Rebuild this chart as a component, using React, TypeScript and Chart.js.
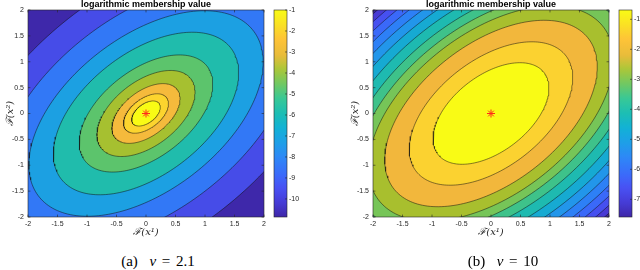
import React, { useEffect, useRef } from "react";
import { Chart, registerables } from "chart.js";
Chart.register(...registerables);

// ---------------- data ----------------
const axisTicks = [-2, -1.5, -1, -0.5, 0, 0.5, 1, 1.5, 2];

// panel (a): nu = 2.1 — contour levels, innermost first
const leftLevels = [-2, -3, -4, -5, -6, -7, -8, -9, -10];
// where each contour line crosses the positive x-axis (y = 0)
const leftCrossings = [0.21, 0.33, 0.5, 0.72, 0.98, 1.36, 1.72, 2.18, 2.74];
const leftCorrelation = 0.5;
const leftColorbarTicks = [-1, -2, -3, -4, -5, -6, -7, -8, -9, -10];
const leftValueRange = [-10.86, -1];

// panel (b): nu = 10
const rightLevels = [-1, -1.5, -2, -2.5, -3, -3.5, -4, -4.5, -5, -5.5, -6, -6.5, -7];
const rightCrossings = [0.85, 1.2, 1.56, 1.8, 1.98, 2.17, 2.38, 2.58, 2.77, 2.95, 3.12, 3.27, 3.4];
const rightCorrelation = 0.5;
const rightColorbarTicks = [-1, -2, -3, -4, -5, -6, -7];
const rightValueRange = [-7.59, -0.69];

const centerPoint = [{ x: 0, y: 0 }];

// ---------------- styling ----------------
// fill colour of each band, innermost band first, outermost (corner) band last
const leftBandColors = [
  "rgb(249,251,21)",
  "rgb(252,212,46)",
  "rgb(245,186,60)",
  "rgb(166,192,48)",
  "rgb(92,196,108)",
  "rgb(32,188,172)",
  "rgb(28,160,226)",
  "rgb(50,120,246)",
  "rgb(70,76,232)",
  "rgb(62,40,170)",
];
const rightBandColors = [
  "rgb(249,251,21)",
  "rgb(251,210,48)",
  "rgb(242,183,60)",
  "rgb(168,191,46)",
  "rgb(118,197,88)",
  "rgb(62,194,138)",
  "rgb(30,186,176)",
  "rgb(22,170,210)",
  "rgb(34,150,234)",
  "rgb(45,128,246)",
  "rgb(58,105,249)",
  "rgb(70,80,240)",
  "rgb(72,58,212)",
  "rgb(62,38,168)",
];

const COLORMAP: number[][] = [
  [0.0, 62, 38, 168],
  [0.07, 70, 60, 215],
  [0.143, 72, 82, 244],
  [0.2, 60, 105, 250],
  [0.286, 46, 135, 247],
  [0.357, 30, 158, 232],
  [0.429, 18, 177, 214],
  [0.5, 28, 190, 180],
  [0.571, 55, 200, 151],
  [0.64, 110, 200, 100],
  [0.714, 171, 199, 57],
  [0.78, 232, 188, 58],
  [0.857, 254, 195, 56],
  [0.93, 250, 225, 36],
  [1.0, 249, 251, 21],
];

function cmap(t: number): string {
  const tt = Math.max(0, Math.min(1, t));
  for (let i = 0; i < COLORMAP.length - 1; i++) {
    const a = COLORMAP[i];
    const b = COLORMAP[i + 1];
    if (tt <= b[0]) {
      const f = (tt - a[0]) / (b[0] - a[0]);
      const r = Math.round(a[1] + (b[1] - a[1]) * f);
      const g = Math.round(a[2] + (b[2] - a[2]) * f);
      const bl = Math.round(a[3] + (b[3] - a[3]) * f);
      return `rgb(${r},${g},${bl})`;
    }
  }
  return "rgb(249,251,21)";
}

function ellipsePoints(x0: number, rho: number, steps = 200) {
  const A = x0 / Math.sqrt(1 - rho);
  const B = x0 / Math.sqrt(1 + rho);
  const pts: { x: number; y: number }[] = [];
  for (let i = 0; i <= steps; i++) {
    const th = (i / steps) * 2 * Math.PI;
    const u = A * Math.cos(th);
    const v = B * Math.sin(th);
    pts.push({ x: (u - v) / Math.SQRT2, y: (u + v) / Math.SQRT2 });
  }
  return pts;
}

const AXIS_COLOR = "#262626";
const TICK_FONT = { family: "'Liberation Sans', Arial, sans-serif", size: 7 };
const LABEL_FONT = { family: "'DejaVu Serif', 'Liberation Serif', serif", size: 10, style: "italic" as const };
const fmt = (v: any) => String(v);

type PanelProps = {
  canvasLeft: number;
  cbCanvasLeft: number;
  levels: number[];
  crossings: number[];
  rho: number;
  range: number[];
  cbTicks: number[];
  bandColors: string[];
};

function Panel({ canvasLeft, cbCanvasLeft, levels, crossings, rho, range, cbTicks, bandColors }: PanelProps) {
  const mainRef = useRef<HTMLCanvasElement>(null);
  const cbRef = useRef<HTMLCanvasElement>(null);

  useEffect(() => {
    const n = levels.length;
    const bgPlugin = {
      id: "bg",
      beforeDatasetsDraw(chart: any) {
        const { ctx, chartArea: a } = chart;
        ctx.save();
        ctx.fillStyle = bandColors[n];
        ctx.fillRect(a.left, a.top, a.width, a.height);
        ctx.restore();
      },
    };
    const framePlugin = {
      id: "frame",
      afterDatasetsDraw(chart: any) {
        const { ctx, chartArea: a, scales } = chart;
        ctx.save();
        ctx.strokeStyle = AXIS_COLOR;
        ctx.lineWidth = 0.6;
        ctx.strokeRect(a.left, a.top, a.width, a.height);
        const tl = 2.4;
        ctx.beginPath();
        for (const v of axisTicks) {
          const px = scales.x.getPixelForValue(v);
          ctx.moveTo(px, a.bottom);
          ctx.lineTo(px, a.bottom - tl);
          ctx.moveTo(px, a.top);
          ctx.lineTo(px, a.top + tl);
          const py = scales.y.getPixelForValue(v);
          ctx.moveTo(a.left, py);
          ctx.lineTo(a.left + tl, py);
          ctx.moveTo(a.right, py);
          ctx.lineTo(a.right - tl, py);
        }
        ctx.stroke();
        ctx.restore();
      },
    };

    const datasets: any[] = levels.map((lv, j) => ({
      label: String(lv),
      data: ellipsePoints(crossings[j], rho),
      showLine: true,
      fill: "shape",
      backgroundColor: bandColors[j],
      borderColor: "rgba(15,15,15,0.85)",
      borderWidth: 0.6,
      pointRadius: 0,
      pointHoverRadius: 0,
      tension: 0,
      order: j + 1,
      clip: 0,
    }));
    datasets.push({
      label: "center",
      data: centerPoint,
      showLine: false,
      pointStyle: "star",
      pointRadius: 4,
      pointBorderColor: "#ff2a1a",
      pointBackgroundColor: "#ff2a1a",
      pointBorderWidth: 1,
      order: 0,
      clip: false,
    });

    const main = new Chart(mainRef.current as HTMLCanvasElement, {
      type: "scatter",
      data: { datasets },
      plugins: [bgPlugin, framePlugin],
      options: {
        animation: false,
        responsive: false,
        events: [],
        layout: { padding: 0 },
        plugins: {
          legend: { display: false },
          tooltip: { enabled: false },
          title: {
            display: true,
            text: "logarithmic membership value",
            color: "#000",
            font: { family: "'Liberation Sans', Arial, sans-serif", size: 9, weight: "bold", lineHeight: 1 },
            padding: { top: 0.5, bottom: 0.5 },
          },
        },
        scales: {
          x: {
            type: "linear",
            min: -2,
            max: 2,
            afterBuildTicks: (s: any) => {
              s.ticks = axisTicks.map((v) => ({ value: v }));
            },
            afterFit: (s: any) => {
              s.height = 28;
            },
            ticks: { font: TICK_FONT, color: AXIS_COLOR, padding: 2.5, maxRotation: 0, autoSkip: false, callback: fmt },
            grid: { display: false, drawTicks: false },
            border: { display: false },
            title: {
              display: true,
              text: "ℱ(x¹)",
              color: AXIS_COLOR,
              font: LABEL_FONT,
              padding: { top: 0, bottom: 6.3 },
            },
          },
          y: {
            type: "linear",
            min: -2,
            max: 2,
            afterBuildTicks: (s: any) => {
              s.ticks = axisTicks.map((v) => ({ value: v }));
            },
            afterFit: (s: any) => {
              s.width = 28;
            },
            ticks: { font: TICK_FONT, color: AXIS_COLOR, padding: 4, autoSkip: false, callback: fmt },
            grid: { display: false, drawTicks: false },
            border: { display: false },
            title: {
              display: true,
              text: "ℱ(x²)",
              color: AXIS_COLOR,
              font: LABEL_FONT,
              padding: { top: 4, bottom: 0 },
            },
          },
          // empty right-hand spacer so the title is centred over the plot box
          spacer: {
            type: "linear",
            position: "right",
            min: -2,
            max: 2,
            afterFit: (s: any) => {
              s.width = 28;
            },
            ticks: { display: false },
            grid: { display: false, drawTicks: false },
            border: { display: false },
          },
        },
      } as any,
    });

    const gradPlugin = {
      id: "grad",
      beforeDatasetsDraw(chart: any) {
        const { ctx, chartArea: a, scales } = chart;
        ctx.save();
        const g = ctx.createLinearGradient(0, a.bottom, 0, a.top);
        for (let i = 0; i <= 64; i++) g.addColorStop(i / 64, cmap(i / 64));
        ctx.fillStyle = g;
        ctx.fillRect(a.left, a.top, a.width, a.height);
        ctx.strokeStyle = AXIS_COLOR;
        ctx.lineWidth = 0.6;
        ctx.strokeRect(a.left, a.top, a.width, a.height);
        ctx.beginPath();
        for (const v of cbTicks) {
          const py = scales.y.getPixelForValue(v);
          ctx.moveTo(a.right, py);
          ctx.lineTo(a.right - 2, py);
        }
        ctx.stroke();
        ctx.restore();
      },
    };

    const cb = new Chart(cbRef.current as HTMLCanvasElement, {
      type: "scatter",
      data: { datasets: [] },
      plugins: [gradPlugin],
      options: {
        animation: false,
        responsive: false,
        events: [],
        layout: { padding: { left: 10, right: 0, top: 10, bottom: 28 } },
        plugins: { legend: { display: false }, tooltip: { enabled: false }, title: { display: false } },
        scales: {
          x: { type: "linear", display: false, min: 0, max: 1 },
          y: {
            type: "linear",
            position: "right",
            min: range[0],
            max: range[1],
            afterBuildTicks: (s: any) => {
              s.ticks = cbTicks.map((v) => ({ value: v }));
            },
            afterFit: (s: any) => {
              s.width = 30;
            },
            ticks: { font: TICK_FONT, color: AXIS_COLOR, padding: 2, autoSkip: false, callback: fmt },
            grid: { display: false, drawTicks: false },
            border: { display: false },
          },
        },
      } as any,
    });

    return () => {
      main.destroy();
      cb.destroy();
    };
  }, []);

  return (
    <>
      <canvas
        ref={mainRef}
        width={292}
        height={245}
        style={{ position: "absolute", left: canvasLeft, top: 0, width: 292, height: 245 }}
      />
      <canvas
        ref={cbRef}
        width={53}
        height={245}
        style={{ position: "absolute", left: cbCanvasLeft, top: 0, width: 53, height: 245 }}
      />
    </>
  );
}

const captionStyle = (cx: number): React.CSSProperties => ({
  position: "absolute",
  left: cx - 100,
  width: 200,
  top: 253,
  textAlign: "center",
  fontFamily: "'Liberation Serif', 'DejaVu Serif', serif",
  fontSize: 15,
  lineHeight: "17px",
  wordSpacing: 2,
  color: "#000",
  whiteSpace: "pre",
});

export default function App() {
  return (
    <div
      style={{
        position: "absolute",
        left: 0,
        top: 0,
        width: 640,
        height: 270,
        overflow: "hidden",
        background: "#fff",
      }}
    >
      <Panel
        canvasLeft={0}
        cbCanvasLeft={264}
        levels={leftLevels}
        crossings={leftCrossings}
        rho={leftCorrelation}
        range={leftValueRange}
        cbTicks={leftColorbarTicks}
        bandColors={leftBandColors}
      />
      <Panel
        canvasLeft={345}
        cbCanvasLeft={609}
        levels={rightLevels}
        crossings={rightCrossings}
        rho={rightCorrelation}
        range={rightValueRange}
        cbTicks={rightColorbarTicks}
        bandColors={rightBandColors}
      />
      <div style={captionStyle(158)}>
        (a)  <i>ν</i> = 2.1
      </div>
      <div style={captionStyle(503)}>
        (b)  <i>ν</i> = 10
      </div>
    </div>
  );
}
